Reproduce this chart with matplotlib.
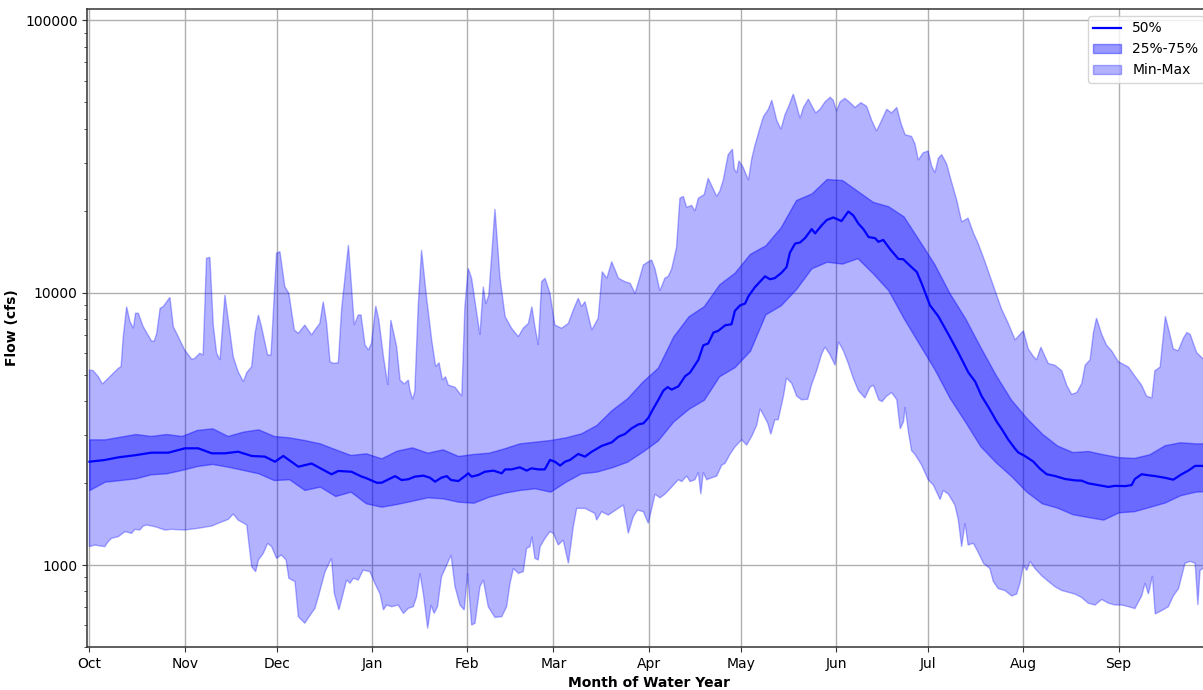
import numpy as np
import matplotlib
matplotlib.use("Agg")
import matplotlib.pyplot as plt
from matplotlib.ticker import FixedLocator, ScalarFormatter, NullFormatter

# day of water year (0 = Oct 1) for the quartiles
q_days = [0, 5, 10, 15, 20, 25, 30, 35, 40, 45, 50, 55, 60, 65, 70, 75, 80, 85, 90,
          95, 100, 105, 110, 115, 120, 125, 130, 135, 140, 145, 150, 155, 160, 165,
          170, 175, 180, 185, 190, 195, 200, 205, 210, 215, 220, 225, 230, 235, 240,
          245, 250, 255, 260, 265, 270, 275, 280, 285, 290, 295, 300, 305, 310, 315,
          320, 325, 330, 335, 340, 345, 350, 355, 360, 364]

q75 = [2893, 2893, 2959, 3027, 2977, 3027, 2977, 3132, 3177, 2977, 3089, 3148,
       2977, 2942, 2876, 2797, 2660, 2535, 2571, 2464, 2629, 2704, 2585, 2659,
       2514, 2557, 2585, 2682, 2797, 2837, 2877, 2943, 3044, 3266, 3708, 4093,
       4712, 5300, 6898, 8190, 8926, 10730, 11840, 13888, 14910, 17380, 21880,
       23120, 26140, 25900, 23620, 21540, 20760, 19055, 15600, 12740, 9939, 8065,
       6310, 4981, 4043, 3467, 3039, 2746, 2598, 2622, 2550, 2489, 2473, 2550,
       2754, 2823, 2797, 2797]

q25 = [1886, 2023, 2051, 2081, 2153, 2171, 2234, 2309, 2350, 2296, 2234, 2171,
       2051, 2065, 1886, 1940, 1792, 1859, 1685, 1637, 1675, 1722, 1772, 1757,
       1708, 1693, 1782, 1843, 1886, 1913, 1859, 2023, 2171, 2202, 2284, 2395,
       2607, 2866, 3362, 3745, 4043, 4935, 5328, 6117, 8318, 8982, 10310, 12285,
       12985, 12785, 13385, 11770, 10216, 8065, 6500, 5248, 4105, 3362, 2729,
       2383, 2122, 1859, 1685, 1624, 1537, 1500, 1468, 1561, 1576, 1634, 1696,
       1803, 1859, 1870]

med_days = [0, 5, 9.4, 14.8, 20.2, 25.7, 31.1, 35.4, 39.8, 44.1, 48.4, 52.8, 57.1,
            60.4, 63.1, 68, 72.3, 78.8, 81, 85.3, 88.6, 89.7, 93.5, 95.1, 99.5, 101.6,
            103.8, 105.9, 108.7, 110.8, 112.5, 114.6, 116.3, 117.7, 120.1, 122.2,
            123.3, 124.4, 126.6, 128.7, 131.5, 134.2, 135.3, 137.4, 140.1, 142.3,
            143.9, 146.1, 148.2, 149.9, 151.5, 153.2, 154.8, 156.4, 159.1, 161.3,
            163.5, 166.7, 170, 172.2, 174.3, 176.5, 178.7, 180.3, 181.9, 183.5, 185.2,
            186.8, 188.2, 189.5, 191.7, 193.9, 195.5, 198.2, 199.8, 201.4, 203.1,
            204.7, 206.9, 209, 210.1, 211.8, 213.4, 214.5, 216.6, 219.9, 221.5, 223.1,
            225.3, 226.9, 228, 229.7, 231.3, 232.9, 235.1, 236.2, 238.3, 240, 242.1,
            244.8, 247, 248.6, 250.3, 251.9, 253.6, 255.7, 256.8, 258.4, 260.6, 263.3,
            264.9, 267.6, 269.3, 270.9, 273.6, 276.3, 279.6, 282.8, 286.1, 288.3,
            290.4, 292.6, 295.3, 296.9, 299.1, 301.3, 302.3, 304.5, 307.2, 309.4,
            311.6, 314.3, 317.5, 320.8, 323, 325.1, 328.4, 331.7, 333.8, 337.1, 339.2,
            340.3, 342.5, 344.7, 346.8, 350.2, 352.8, 355.5, 357.7, 359.9, 364]

median = [2395, 2430, 2485, 2529, 2585, 2585, 2682, 2682, 2571, 2571, 2606, 2514,
          2500, 2395, 2514, 2296, 2358, 2153, 2215, 2200, 2111, 2093, 2005, 2005,
          2120, 2051, 2065, 2111, 2128, 2093, 2023, 2093, 2120, 2051, 2034, 2120,
          2171, 2111, 2141, 2200, 2221, 2171, 2244, 2244, 2284, 2221, 2265, 2244,
          2244, 2430, 2395, 2318, 2395, 2430, 2557, 2500, 2606, 2736, 2820, 2959,
          3027, 3177, 3284, 3312, 3467, 3745, 4043, 4365, 4500, 4406, 4529, 4935,
          5088, 5667, 6406, 6506, 7134, 7244, 7586, 7656, 8577, 8982, 9120, 9698,
          10470, 11480, 11200, 11306, 11840, 12400, 14020, 15140, 15280, 15850,
          17115, 16500, 17650, 18480, 18880, 18310, 19850, 19230, 17920, 17115,
          16000, 15850, 15370, 15610, 14450, 13300, 13260, 12400, 11910, 10800,
          8982, 8190, 7026, 6026, 5088, 4715, 4169, 3802, 3362, 3162, 2884, 2672,
          2591, 2512, 2399, 2256, 2154, 2122, 2070, 2045, 2040, 1995, 1965, 1935,
          1953, 1948, 1965, 2070, 2154, 2135, 2122, 2089, 2057, 2154, 2222, 2312,
          2312]

max_days = [0, 1.2, 2.9, 4.2, 5, 7.2, 9.4, 10.3, 11, 12.1, 13.2, 14.3, 15, 15.9, 17.5,
            20.2, 21.1, 21.9, 23, 24, 26.2, 27.3, 28.9, 31, 33.3, 34.3, 35.9, 37, 38.1,
            39.2, 40.3, 41.4, 42.5, 44.1, 45.2, 46.8, 48.4, 50.1, 51.2, 52.8, 53.9, 55,
            56, 58, 59.1, 60.9, 62, 63.6, 64.9, 66.7, 68, 70.1, 71.2, 72.3, 73.4, 75,
            76.1, 77.2, 78.3, 79.4, 81, 82.1, 84.3, 85.3, 86.2, 87.5, 88.4, 89.7, 90.8,
            91.8, 93.2, 94.2, 95.7, 97.1, 98.1, 100, 101.1, 102.5, 103.8, 104.3, 105.2,
            105.9, 107, 108.1, 109.7, 111.4, 112.7, 113.8, 114.9, 115.9, 116.8, 119,
            121.2, 122.2, 123.3, 124.4, 127.1, 128.2, 129, 130, 132, 133.6, 135.3,
            137.4, 139.6, 141.2, 142.9, 144, 145, 146.1, 147.2, 148.3, 149.9, 151.5,
            153.7, 155.9, 157.5, 159.1, 160.2, 161.3, 163.5, 165.6, 166.9, 168.4, 170,
            172.2, 174.3, 176, 177.6, 178.9, 180.3, 181.9, 183, 184.1, 185.7, 187.3,
            188.4, 189.5, 191.1, 192.2, 193.3, 194.4, 196, 197.1, 198.2, 200.1, 201.4,
            202.5, 204.2, 205.2, 206.3, 207.9, 209.3, 209.9, 210.7, 211.4, 212.8, 214.5,
            215.6, 216.6, 218.3, 219.4, 221, 222.1, 223.7, 225.1, 226.4, 227.7, 229.1,
            230.2, 231.3, 232.4, 234, 235.1, 236.4, 237.8, 239.4, 241.1, 242.1, 243.2,
            244.3, 245.9, 247.6, 249.2, 251.1, 253, 254.6, 256.2, 257.9, 259.5, 261.1,
            262.8, 264.2, 265.5, 267.6, 268.7, 269.8, 271.4, 273, 274.1, 275.2, 276.3,
            277.4, 279, 280.6, 282.3, 283.9, 285, 286, 287.7, 289.3, 291.5, 294.8,
            296.9, 299.1, 301.3, 302.9, 304, 305.6, 307.2, 308.3, 309.7, 311, 312.1,
            314.3, 316.5, 318.1, 319.7, 321.4, 323, 324.1, 325.7, 326.8, 327.8, 329.5,
            331.1, 332.7, 334.9, 338.2, 340.3, 342.5, 344.1, 345.8, 346.8, 348.5, 350.2,
            351.4, 352.8, 354.4, 356.1, 357.2, 358.3, 360.4, 364]

max_flow = [5200, 5170, 4915, 4620, 4712, 4985, 5275, 5350, 6895, 8885, 7825, 7400,
            8400, 8400, 7500, 6645, 6645, 7090, 8760, 8885, 9613, 7500, 6895, 6160,
            5690, 5740, 5990, 5905, 13370, 13480, 7605, 5990, 5660, 9805, 7937, 5820,
            5125, 4712, 5085, 5350, 7090, 8280, 7500, 5905, 5905, 13950, 14150, 10520,
            9945, 7295, 7090, 7605, 7295, 6995, 7295, 7715, 9268, 7715, 5580, 5500,
            5530, 8760, 14960, 10520, 7605, 8280, 8280, 6425, 6160, 6515, 8935, 7937,
            5820, 4580, 7937, 6335, 4779, 4620, 4779, 4392, 4058, 4330, 8885, 14350,
            9667, 6702, 5350, 5530, 4779, 4915, 4580, 4493, 4174, 8885, 12285, 11290,
            6995, 10520, 9087, 9805, 20290, 11450, 8164, 7400, 6895, 7400, 7715, 8885,
            7500, 6425, 10975, 11290, 9945, 7605, 7400, 7715, 8636, 9532, 8885, 9268,
            7295, 8050, 11940, 11290, 12990, 11290, 10975, 10820, 9945, 11130, 12640,
            12985, 13180, 12210, 10155, 11306, 11480, 12210, 14680, 22220, 22560,
            20580, 20900, 19950, 22220, 22910, 26300, 24740, 22560, 23620, 25900,
            32120, 33630, 28400, 27540, 30480, 28840, 25900, 31130, 34670, 40440,
            44340, 47130, 50890, 42990, 39810, 45000, 48600, 53620, 48600, 43650,
            47860, 51360, 48600, 45710, 47130, 50120, 52160, 50890, 46420, 50120,
            51690, 49830, 47860, 49830, 48310, 42990, 39210, 42990, 47130, 45710,
            47860, 41690, 38020, 37450, 35220, 30670, 32620, 33110, 29280, 27540,
            31130, 32120, 29720, 25510, 21880, 18200, 18480, 18770, 16600, 15140,
            12985, 10155, 8710, 7701, 6710, 7026, 7244, 6213, 5843, 5667, 6310, 5843,
            5495, 5412, 5167, 4571, 4232, 4298, 4642, 5412, 5667, 7134, 8065, 7026,
            6406, 6117, 5580, 5330, 4935, 4571, 4169, 4105, 5167, 5330, 8190, 7244,
            6213, 6117, 6813, 7134, 7026, 6026, 5500]

min_days = [0, 1.8, 3.4, 5, 6.1, 7.2, 9.4, 11.6, 13.7, 14.8, 16.4, 17.5, 18.6, 21.3,
            24.6, 26.7, 31, 35.4, 39.8, 41.9, 45.2, 46.8, 48.4, 51.2, 52.8, 54.1, 55,
            56.6, 58, 59.3, 60.9, 62.5, 64, 64.9, 66.9, 68, 70.1, 71.5, 73.4, 74.5,
            76.7, 78.8, 79.7, 81.2, 82.6, 83.7, 84.8, 85.9, 87.5, 89.1, 91.3, 92.9,
            94.6, 95.7, 96.7, 98.4, 100.5, 102.2, 103.8, 105.4, 106.5, 107.6, 108.7,
            110.1, 111.2, 112.2, 113.3, 114.6, 116.3, 117.7, 119, 120.6, 122, 123.1,
            124.4, 125.5, 127.1, 128.2, 129.8, 132, 134.2, 135.8, 136.9, 138, 139.6,
            141.2, 142.3, 143.4, 144, 145, 146.1, 146.7, 148.3, 149.9, 151, 152.6,
            154.2, 155.9, 157.5, 158.6, 161.3, 164.5, 165.1, 166.7, 168.9, 172.1,
            173.8, 175.4, 177, 178.4, 180.3, 181.9, 183, 184.1, 185.7, 187.3, 189,
            190.6, 191.7, 192.8, 194.4, 195.5, 197.1, 198.2, 199, 199.8, 200.9, 202.5,
            204.2, 205.8, 206.9, 208.5, 210.1, 212.3, 213.9, 215.6, 217.2, 218.3,
            219.9, 220.8, 221.8, 223.1, 224.2, 225.9, 226.9, 228.6, 230.2, 231.8,
            233.8, 235, 236.7, 238.3, 239.4, 241, 242.7, 243.8, 245.4, 247, 248.6,
            250.3, 252.4, 254.1, 255.2, 256.9, 258, 259.5, 261.1, 262.8, 263.9, 265,
            265.5, 266.6, 267.6, 268.7, 270.9, 273, 274.7, 275.8, 276.9, 277.9, 279.6,
            281.7, 282.8, 283.9, 285, 286, 287.7, 289.3, 291, 293.1, 294.2, 295.8, 298,
            300.2, 301.8, 302.9, 304, 305.1, 306.2, 307.8, 310, 312.1, 314.3, 316.5,
            318.6, 320.8, 323, 325.1, 327.3, 329.5, 331.7, 333.8, 336, 338.2, 340.3,
            342.5, 343.6, 344.7, 346, 346.9, 349.1, 351.2, 352.8, 354.5, 356.6, 358.3,
            359.9, 360.8, 361.5, 364]

min_flow = [1168, 1184, 1175, 1168, 1218, 1253, 1271, 1326, 1307, 1352, 1344, 1390,
            1402, 1383, 1344, 1352, 1344, 1364, 1390, 1422, 1471, 1539, 1462, 1402,
            986, 945, 1043, 1104, 1201, 1168, 1058, 1088, 1043, 894, 869, 646, 611,
            646, 693, 765, 945, 1058, 787, 684, 787, 881, 857, 894, 881, 958, 945, 857,
            782, 684, 713, 703, 713, 664, 693, 703, 765, 932, 782, 585, 713, 664, 703,
            906, 1000, 1088, 832, 713, 684, 932, 602, 611, 832, 881, 703, 642, 646,
            703, 857, 972, 932, 945, 1151, 1168, 1271, 1058, 1043, 1168, 1253, 1326,
            1307, 1184, 1235, 1014, 1383, 1614, 1614, 1547, 1462, 1569, 1526, 1614,
            1661, 1307, 1505, 1592, 1569, 1423, 1609, 1820, 1765, 1820, 1905, 1995,
            2057, 2025, 2122, 2025, 2057, 2188, 1820, 2188, 2057, 2089, 2122, 2326,
            2362, 2550, 2712, 2884, 2754, 2973, 3260, 3745, 3467, 3311, 3020, 3415,
            3415, 4169, 4860, 4642, 4169, 4043, 4060, 4571, 5167, 5934, 6310, 5934,
            5412, 6607, 6117, 5495, 4860, 4365, 4105, 4500, 4571, 4043, 3981, 4169,
            4298, 4043, 3162, 3362, 3802, 3068, 2630, 2550, 2326, 2057, 1965, 1848,
            1738, 1877, 1820, 1660, 1468, 1166, 1423, 1184, 1202, 1113, 1015, 970,
            871, 819, 806, 770, 782, 858, 1000, 955, 1031, 970, 912, 871, 832, 806,
            794, 782, 759, 724, 713, 747, 724, 713, 713, 703, 692, 770, 858, 782, 912,
            661, 681, 703, 770, 819, 1015, 1031, 1015, 713, 955, 1000]

month_starts = [0, 31, 61, 92, 123, 151, 182, 212, 243, 273, 304, 335]
month_names = ['Oct', 'Nov', 'Dec', 'Jan', 'Feb', 'Mar', 'Apr', 'May', 'Jun',
               'Jul', 'Aug', 'Sep']

fig = plt.figure(figsize=(12.03, 6.9), dpi=100)
ax = fig.add_axes([87.3 / 1203, 43 / 690, (1210.8 - 87.3) / 1203, 638 / 690])

# min-max envelope as one polygon (upper edge then lower edge back)
poly_x = np.concatenate([max_days, min_days[::-1]])
poly_y = np.concatenate([max_flow, min_flow[::-1]])
mm = ax.fill(poly_x, poly_y, color='blue', alpha=0.3, label='Min-Max')[0]

iqr = ax.fill_between(q_days, q25, q75, color='blue', alpha=0.4, label='25%-75%')
med, = ax.plot(med_days, median, color='blue', lw=1.6, label='50%')

ax.set_yscale('log')
ax.set_ylim(500, 110000)
ax.set_xlim(-0.7, 365)

ax.yaxis.set_major_locator(FixedLocator([1000, 10000, 100000]))
ax.yaxis.set_major_formatter(ScalarFormatter())
ax.yaxis.set_minor_formatter(NullFormatter())
ax.set_xticks(month_starts)
ax.set_xticklabels(month_names)

ax.grid(True, which='major', color='#b0b0b0', lw=1)
ax.set_axisbelow(True)
for s in ax.spines.values():
    s.set_color('#333333')
    s.set_linewidth(1.1)
ax.tick_params(which='both', color='#333333')

ax.set_xlabel('Month of Water Year', fontweight='bold')
ax.set_ylabel('Flow (cfs)', fontweight='bold')

ax.legend(handles=[med, iqr, mm], loc='upper right')

fig.savefig('out.png', dpi=100)
